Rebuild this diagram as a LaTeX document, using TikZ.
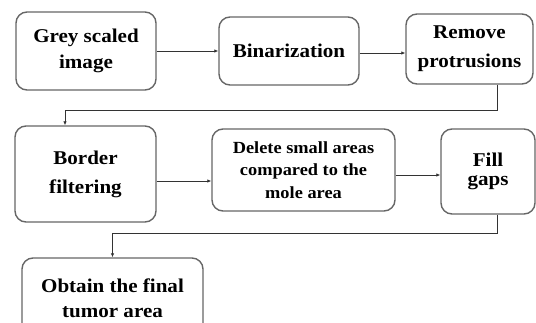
\documentclass[tikz,border=0pt]{standalone}
\usepackage{fontspec}
\setmainfont{Liberation Serif}[FakeStretch=1.08]
\usetikzlibrary{arrows.meta}
\usetikzlibrary{positioning}
\tikzset{>=latex}
\tikzstyle{box} = [draw=black!60, line width=1.4pt, rounded corners=11pt, align=center, inner sep=0pt, font=\bfseries\fontsize{19.5}{26}\selectfont]
\tikzstyle{con} = [-{Latex[length=4pt,width=3.5pt]}, draw=black!80, line width=0.9pt]

\begin{document}
\begin{tikzpicture}[x=1pt, y=-1pt]
\useasboundingbox (0,0) rectangle (536,322);
\clip (0,0) rectangle (536,322);
%\node [draw=none, font=\small] at (268,-4) {stages of preprocessing};
\node [box, minimum width=140pt, minimum height=78pt] (G) at (86,51) {Grey scaled\\image};
\node [box, minimum width=140pt, minimum height=68pt] (B) at (289,51) {Binarization};
\node [box, minimum width=127pt, minimum height=70pt, font=\bfseries\fontsize{19.5}{29}\selectfont] (R) at (469.5,49) {Remove\\protrusions};
\node [box, minimum width=141pt, minimum height=96pt, font=\bfseries\fontsize{19.5}{29}\selectfont] (F) at (85.5,174) {Border\\filtering};
\node [box, minimum width=183pt, minimum height=82pt, font=\bfseries\fontsize{17}{22.6}\selectfont] (D) at (303.5,170) {Delete small areas\\compared to the\\mole area};
\node [box, minimum width=94pt, minimum height=85pt, font=\bfseries\fontsize{19.5}{19}\selectfont] (Fi) at (488,171.5) {Fill\\gaps};
\node [box, minimum width=181pt, minimum height=80pt, font=\bfseries\fontsize{19.5}{25}\selectfont] (O) at (112.5,298) {Obtain the final\\tumor area};
\coordinate (k1) at (497,110);
\coordinate (k2) at (65,110);
\coordinate (k3) at (497,233);
\coordinate (k4) at (112.5,233);
\draw [con] (G.east) -- (G.east -| B.west);
\draw [con] ([yshift=-2pt]B.east) -- ([yshift=-2pt]B.east -| R.west);
\draw [con] (R.south -| k1) -- (k1) -- (k2) -- (F.north -| k2);
\draw [con] ([yshift=-7pt]F.east) -- ([yshift=-7pt]F.east -| D.west);
\draw [con] ([yshift=-5pt]D.east) -- ([yshift=-5pt]D.east -| Fi.west);
\draw [con] (Fi.south -| k3) -- (k3) -- (k4) -- (O.north);
\end{tikzpicture}
\end{document}
